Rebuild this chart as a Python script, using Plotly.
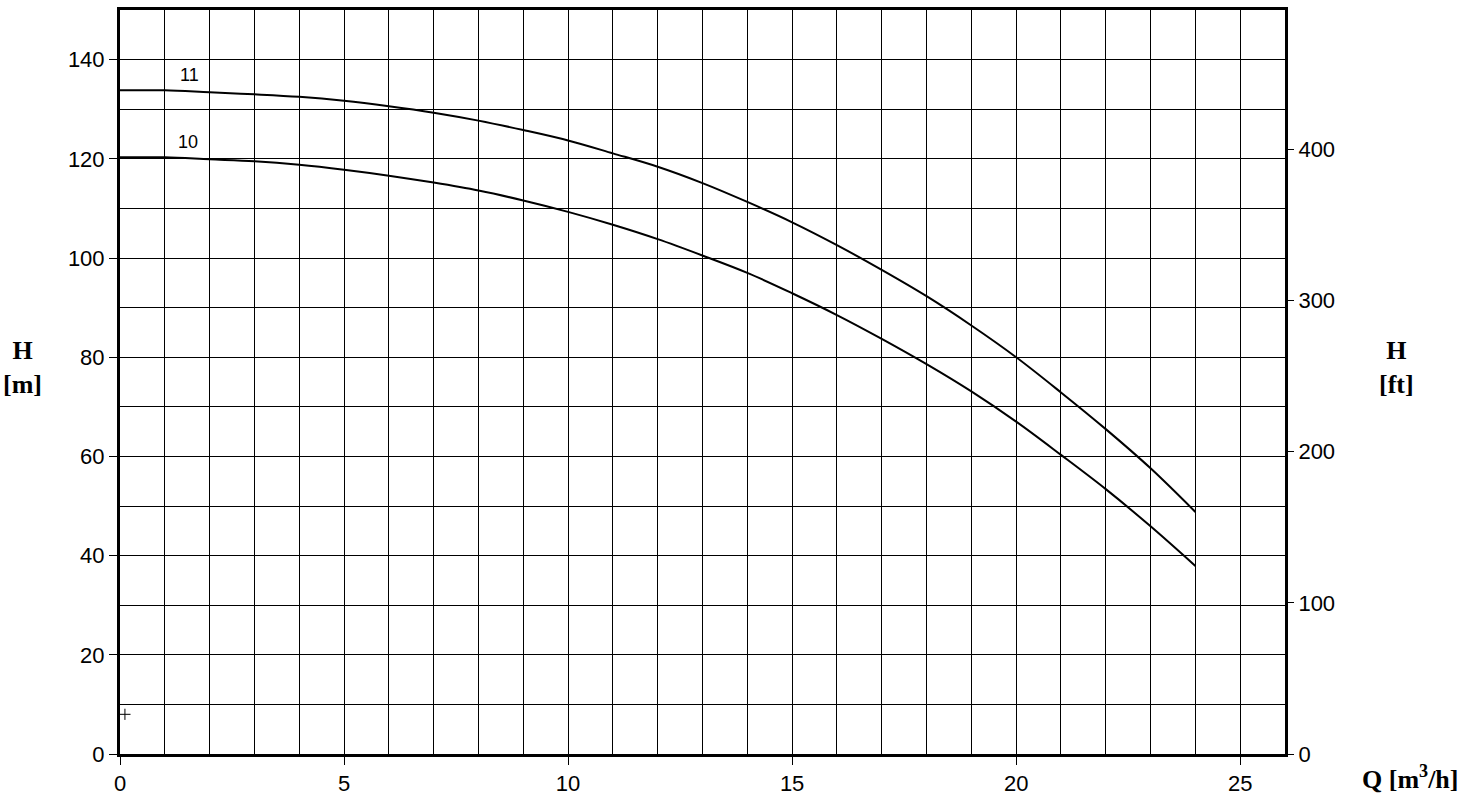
import plotly.graph_objects as go

# pump curves, Q in m3/h, H in m
q = [0, 1, 2, 3, 4, 5, 6, 7, 8, 9, 10, 11, 12, 13, 14, 15, 16, 17, 18, 19, 20, 21, 22, 23, 24]
h_11 = [133.8, 133.8, 133.4, 133.0, 132.5, 131.7, 130.6, 129.3, 127.7, 125.8, 123.7, 121.1,
        118.4, 115.1, 111.3, 107.2, 102.6, 97.6, 92.3, 86.4, 80.0, 72.9, 65.5, 57.6, 48.8]
h_10 = [120.3, 120.3, 119.9, 119.5, 118.8, 117.8, 116.6, 115.2, 113.6, 111.6, 109.3, 106.7,
        103.8, 100.5, 97.0, 92.9, 88.5, 83.7, 78.6, 73.1, 67.0, 60.3, 53.4, 45.9, 37.9]

curve_names = ["11", "10"]
label_q = [1.55, 1.52]
label_h = [136.8, 123.3]

marker_q = [0.11]
marker_h = [8.0]

H_MAX = 150
M_TO_FT = 3.28084

tick_font = dict(family="Liberation Sans, Arial, sans-serif", size=22, color="black")
title_font = dict(family="Liberation Serif, serif", size=26, color="black")

fig = go.Figure()
for name, hh in zip(curve_names, [h_11, h_10]):
    fig.add_trace(go.Scatter(x=q, y=hh, mode="lines", name=name,
                             line=dict(color="black", width=2, shape="spline", smoothing=1.0),
                             showlegend=False))

fig.add_trace(go.Scatter(x=marker_q, y=marker_h, mode="markers", showlegend=False,
                         marker=dict(symbol="cross-thin", size=8,
                                     line=dict(color="black", width=1))))

# invisible trace to activate the ft axis
fig.add_trace(go.Scatter(x=[0], y=[0], yaxis="y2", mode="markers",
                         marker=dict(opacity=0), showlegend=False, hoverinfo="skip"))

for name, xx, yy in zip(curve_names, label_q, label_h):
    fig.add_annotation(x=xx, y=yy, text=name, showarrow=False,
                       font=dict(family="Liberation Sans, Arial, sans-serif", size=18, color="black"))

fig.add_annotation(xref="paper", yref="paper", x=-0.0841, y=0.519, text="<b>H</b><br><b>[m]</b>",
                   showarrow=False, font=title_font, xanchor="center", yanchor="middle")
fig.add_annotation(xref="paper", yref="paper", x=1.0961, y=0.519, text="<b>H</b><br><b>[ft]</b>",
                   showarrow=False, font=title_font, xanchor="center", yanchor="middle")
fig.add_annotation(xref="paper", yref="paper", x=1.1073, y=-0.031, text="<b>Q [m<sup>3</sup>/h]</b>",
                   showarrow=False, font=title_font, xanchor="center", yanchor="middle")

grid = dict(showgrid=True, gridcolor="black", gridwidth=1)

fig.update_layout(
    width=1467, height=800,
    margin=dict(l=120, r=182, t=10, b=46, autoexpand=False),
    plot_bgcolor="white", paper_bgcolor="white",
    xaxis=dict(range=[0, 26], dtick=5, tick0=0, zeroline=False, **grid, automargin=False,
               showline=True, linecolor="black", linewidth=3, mirror=True,
               ticks="outside", ticklen=8, tickcolor="black", tickwidth=1,
               tickfont=tick_font,
               minor=dict(dtick=1, **grid)),
    yaxis=dict(range=[0, H_MAX], dtick=20, tick0=0, zeroline=False, **grid, automargin=False,
               showline=True, linecolor="black", linewidth=3, mirror=True,
               ticks="outside", ticklen=8, tickcolor="black", tickwidth=1,
               tickfont=tick_font,
               minor=dict(dtick=10, **grid)),
    yaxis2=dict(range=[0, H_MAX * M_TO_FT], dtick=100, tick0=0, overlaying="y", side="right",
                showgrid=False, zeroline=False, showline=False, automargin=False,
                ticks="outside", ticklen=8, tickcolor="black", tickwidth=1,
                tickfont=tick_font),
)

# drop the default page margin so the figure sits at the window's corner
fig.write_html("out.html", config={"displayModeBar": False},
               post_script="document.body.style.margin = '0';")
